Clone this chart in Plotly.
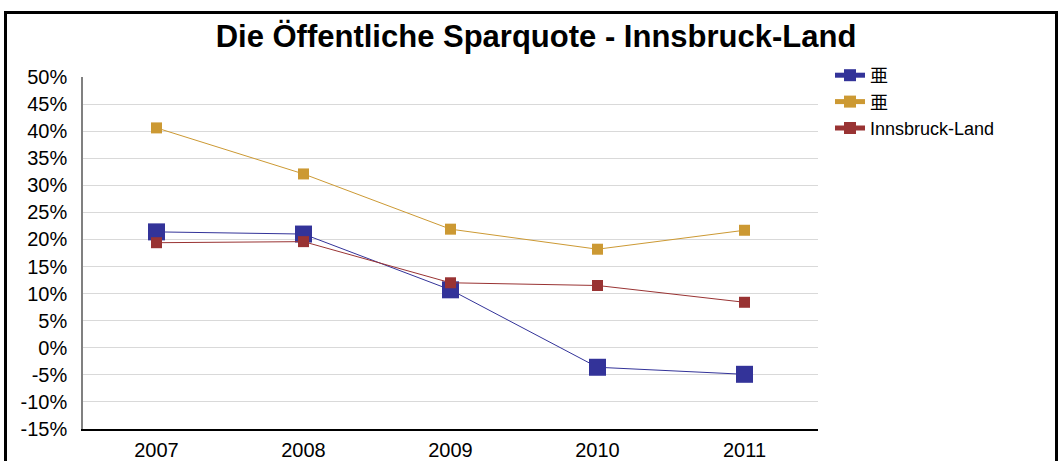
import plotly.graph_objects as go

years = ["2007", "2008", "2009", "2010", "2011"]
series_names = ["亜", "亜", "Innsbruck-Land"]
blue_vals = [21.4, 21.0, 10.7, -3.6, -4.9]
gold_vals = [40.6, 32.1, 21.9, 18.2, 21.7]
red_vals = [19.4, 19.6, 12.0, 11.5, 8.4]
colors = ["#333399", "#CC9933", "#993333"]
marker_sizes = [17, 11, 11]
y_ticks = list(range(-15, 51, 5))

W, H = 1059, 461
L, R, T, B = 83, 818, 77, 429

fig = go.Figure()
for name, vals, col, ms in zip(series_names, [blue_vals, gold_vals, red_vals], colors, marker_sizes):
    fig.add_trace(go.Scatter(
        x=years, y=vals, name=name, mode="lines+markers",
        line=dict(color=col, width=1),
        marker=dict(symbol="square", size=ms, color=col),
    ))

def px_to_paper_x(px):
    return (px - L) / (R - L)

def px_to_paper_y(py):
    return (B - py) / (B - T)

fig.add_shape(type="rect", xref="paper", yref="paper",
              x0=px_to_paper_x(5.5), x1=px_to_paper_x(1056.5),
              y0=px_to_paper_y(480), y1=px_to_paper_y(12.5),
              line=dict(color="black", width=3), fillcolor="rgba(0,0,0,0)", layer="below")

fig.update_layout(
    width=W, height=H,
    margin=dict(l=L, r=W - R, t=T, b=H - B, pad=0, autoexpand=False),
    paper_bgcolor="white", plot_bgcolor="white",
    font=dict(family="Liberation Sans, Arial, sans-serif", size=20, color="black"),
    title=dict(text="<b>Die Öffentliche Sparquote - Innsbruck-Land</b>",
               x=536 / W, xanchor="center", xref="container",
               y=1 - 36 / H, yanchor="middle", yref="container",
               font=dict(size=31, color="black")),
    showlegend=True,
    legend=dict(x=px_to_paper_x(830), xanchor="left", y=px_to_paper_y(57), yanchor="top",
                font=dict(size=18, family="Liberation Sans, Arial, 'Noto Sans CJK SC', sans-serif"),
                itemsizing="constant", itemwidth=30, bgcolor="rgba(0,0,0,0)",
                tracegroupgap=0),
    xaxis=dict(type="category", range=[-0.5, 4.5], showgrid=False, automargin=False,
               showline=True, linecolor="black", linewidth=1.5, ticks="",
               tickfont=dict(size=20), ticklabelstandoff=2),
    yaxis=dict(range=[-15, 50], tickvals=y_ticks, ticktext=[f"{v}%" for v in y_ticks],
               showgrid=True, gridcolor="#d9d9d9", gridwidth=1.2, zeroline=False,
               showline=True, linecolor="#808080", linewidth=1.5, ticks="", automargin=False,
               tickfont=dict(size=20), ticklabelstandoff=10),
)

fig.write_html("out.html", config={"displayModeBar": False},
               post_script="document.body.style.margin='0';")
